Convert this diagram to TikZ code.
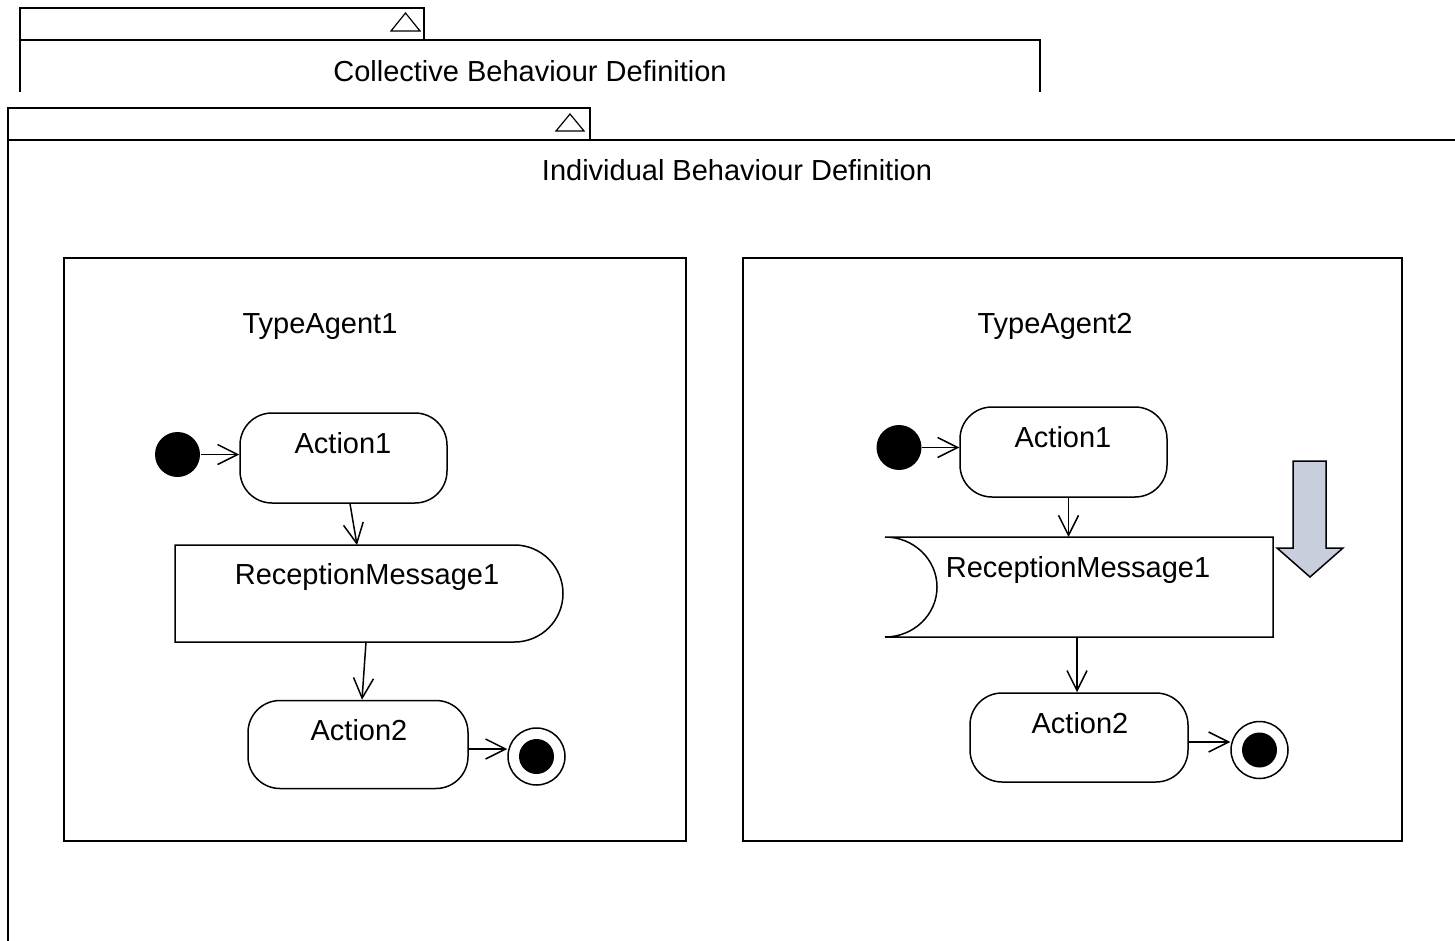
\documentclass[tikz,border=0pt]{standalone}
\usepackage{fontspec}
\setmainfont{Liberation Sans}
\usetikzlibrary{arrows.meta,calc}
\definecolor{signalfill}{RGB}{200,206,220}
\begin{document}
\begin{tikzpicture}[x=1pt,y=1pt,line width=1.5pt,
  lbl/.style={font=\fontsize{29}{34}\selectfont, anchor=base, inner sep=0pt},
  agentbox/.style={draw, anchor=north west, inner sep=0pt},
  act/.style={draw, rounded corners=32pt, inner sep=0pt},
  region/.style={inner sep=0pt, outer sep=0pt},
  initstate/.style={circle, fill=black, minimum size=45pt, inner sep=0pt},
  finalstate/.style={circle, draw, minimum size=57pt, inner sep=0pt,
    path picture={\fill[black] (path picture bounding box.center) circle (17.5pt);}},
  flow/.style={-{Straight Barb[length=20pt,width=20pt]}},
  tabmark/.style={line width=1.2pt}
]
\useasboundingbox (0,0) rectangle (1455,-941);

% collective behaviour frame (cut off below)
\draw (20,-92) -- (20,-8) -- (424,-8) -- (424,-40);
\draw (20,-40) -- (1040,-40) -- (1040,-92);
\draw[tabmark] (391,-31) -- (405.5,-13) -- (420,-31) -- cycle;
\node[lbl] (colltitle) at (530,-82) {Collective Behaviour Definition};

% individual behaviour frame
\draw (8,-941) -- (8,-108) -- (590,-108) -- (590,-140);
\draw (8,-140) -- (1455,-140);
\draw[tabmark] (556,-131) -- (570,-114) -- (584,-131) -- cycle;
\node[lbl] (indtitle) at (737,-181) {Individual Behaviour Definition};

% agent type boxes
\node[agentbox, minimum width=622pt, minimum height=583pt] (agent1) at (63,-257) {};
\node[agentbox, minimum width=659pt, minimum height=583pt] (agent2) at (742,-257) {};
\node[lbl] (agent1name) at (320,-333) {TypeAgent1};
\node[lbl] (agent2name) at (1055,-333) {TypeAgent2};

% ---- TypeAgent1 activity ----
\node[initstate] (iL) at (177.5,-454.5) {};
\node[act, minimum width=207pt, minimum height=90pt] (a1L) at (343.5,-458) {};
\node[lbl] (a1Ltext) at (343,-453) {Action1};

\node[region, minimum width=388pt, minimum height=97pt] (rmL) at (369,-593.5) {};
\draw (175,-545) -- (514.5,-545) arc[start angle=90,end angle=-90,radius=48.5] -- (175,-642) -- cycle;
\node[lbl] (rmLtext) at (367,-584) {ReceptionMessage1};

\node[act, minimum width=220pt, minimum height=88pt] (a2L) at (358,-744.5) {};
\node[lbl] (a2Ltext) at (359,-740) {Action2};
\node[finalstate] (fL) at (536.5,-756.5) {};

\draw[flow] (iL.east) -- (iL.east -| a1L.west);
\draw[flow] ([xshift=6.5pt]a1L.south) -- ([xshift=-12pt]rmL.north);
\draw[flow] ([xshift=-3pt]rmL.south) -- ([xshift=4pt]a2L.north);
\draw[flow] ([yshift=-4.5pt]a2L.east) -- ([yshift=-4.5pt]a2L.east -| fL.west);

% ---- TypeAgent2 activity ----
\node[initstate] (iR) at (899,-447.5) {};
\node[act, minimum width=207pt, minimum height=90pt] (a1R) at (1063.5,-452) {};
\node[lbl] (a1Rtext) at (1063,-447) {Action1};

\node[region, minimum width=388pt, minimum height=100pt] (rmR) at (1079,-587) {};
\draw (885,-537) -- (1273,-537) -- (1273,-637) -- (885,-637)
  arc[start angle=-90,end angle=90,x radius=52,y radius=50] -- cycle;
\node[lbl] (rmRtext) at (1078,-577) {ReceptionMessage1};

% signal marker
\draw[fill=signalfill] (1293,-461) -- (1326,-461) -- (1326,-548) -- (1343,-548)
  -- (1310,-577) -- (1277,-548) -- (1293,-548) -- cycle;

\node[act, minimum width=218pt, minimum height=89pt] (a2R) at (1079,-737.5) {};
\node[lbl] (a2Rtext) at (1080,-733) {Action2};
\node[finalstate] (fR) at (1259.5,-750) {};

\draw[flow] (iR.east) -- (iR.east -| a1R.west);
\draw[flow] ([xshift=5pt]a1R.south) -- ([xshift=-10.5pt]rmR.north);
\draw[flow] ([xshift=-2pt]rmR.south) -- ([xshift=-2pt]a2R.north);
\draw[flow] ([yshift=-4.5pt]a2R.east) -- ([yshift=-4.5pt]a2R.east -| fR.west);
\end{tikzpicture}
\end{document}
